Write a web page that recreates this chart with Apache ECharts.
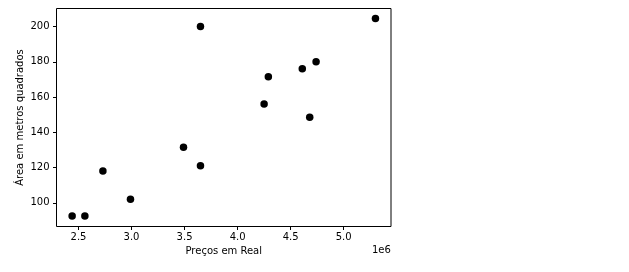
<!DOCTYPE html>
<html><head><meta charset="utf-8">
<script src="https://cdn.jsdelivr.net/npm/echarts@6/dist/echarts.min.js"></script>
<style>html,body{margin:0;padding:0;background:#fff}#c{width:629px;height:272px}</style>
</head><body><div id="c"></div>
<script>
const precos = [2440000, 2560000, 2730000, 2990000, 3490000, 3650000, 3650000, 4250000, 4290000, 4610000, 4680000, 4740000, 5300000];
const areas = [92.5, 92.5, 118, 102, 131.5, 200, 121, 156, 171.5, 176, 148.5, 180, 204.5];
const xLabel = 'Preços em Real';
const yLabel = 'Área em metros quadrados';
const xTicks = [2.5, 3.0, 3.5, 4.0, 4.5, 5.0];
const yTicks = [100, 120, 140, 160, 180, 200];

const chart = echarts.init(document.getElementById('c'), null, {renderer: 'canvas'});
const font = 'DejaVu Sans';
chart.setOption({
  animation: false,
  textStyle: {fontFamily: font},
  grid: {left: 56.5, right: 238, top: 8.5, bottom: 45.5, show: true, borderColor: '#000', borderWidth: 1, backgroundColor: 'transparent'},
  xAxis: {
    type: 'value', min: 2292500, max: 5446500, interval: 500000,
    splitLine: {show: false},
    axisLine: {show: false},
    axisTick: {show: true, length: 3.5, inside: false, lineStyle: {color: '#000'},
      customValues: xTicks.map(v => v * 1e6)},
    axisLabel: {color: '#000', fontSize: 10, margin: 6, fontFamily: font,
      customValues: xTicks.map(v => v * 1e6),
      formatter: v => (v / 1e6).toFixed(1)},
    name: xLabel, nameLocation: 'middle', nameGap: 20, nameMoveOverlap: false,
    nameTextStyle: {color: '#000', fontSize: 10, fontFamily: font}
  },
  yAxis: {
    type: 'value', min: 86.6, max: 210.2, interval: 20,
    splitLine: {show: false},
    axisLine: {show: false},
    axisTick: {show: true, length: 3.5, lineStyle: {color: '#000'}, customValues: yTicks},
    axisLabel: {color: '#000', fontSize: 10, margin: 7, fontFamily: font, customValues: yTicks},
    name: yLabel, nameLocation: 'middle', nameGap: 31, nameMoveOverlap: false,
    nameTextStyle: {color: '#000', fontSize: 10, fontFamily: font}
  },
  graphic: [{type: 'text', left: 372, top: 245, style: {text: '1e6', fill: '#000', font: '10px "DejaVu Sans"'}}],
  series: [{
    type: 'scatter',
    data: precos.map((p, i) => [p, areas[i]]),
    symbolSize: 7.5,
    itemStyle: {color: '#000', opacity: 1}
  }]
});
</script></body></html>
